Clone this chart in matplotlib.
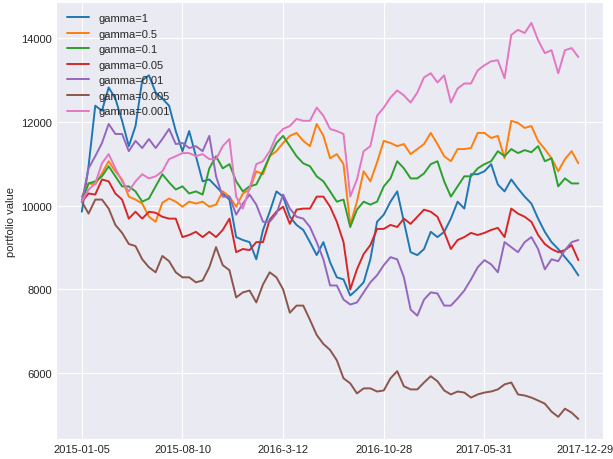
import numpy as np
import matplotlib
matplotlib.use("Agg")
import matplotlib.pyplot as plt

# valores, un punto cada 10 dias de trading
gamma_1 = [9855, 10940, 12385, 12265, 12820, 12555, 12025, 11420, 11900, 12990,
           13110, 12700, 12555, 12385, 11780, 11300, 11780, 11180, 10580, 10625,
           10460, 10290, 10145, 9250, 9180, 9130, 8720, 9420, 9855, 10340,
           10215, 9735, 9540, 9420, 9130, 8820, 9130, 8650, 8290, 8240,
           7855, 8000, 8170, 8720, 9615, 9785, 10095, 10340, 9615, 8890,
           8820, 8965, 9375, 9250, 9375, 9690, 10095, 9930, 10750, 10750,
           10820, 10990, 10505, 10340, 10625, 10410, 10215, 10050, 9690, 9375,
           9130, 8965, 8770, 8580, 8335]
gamma_05 = [10215, 10530, 10505, 10770, 11060, 10820, 10625, 10215, 10145, 10050,
            9735, 9615, 10070, 10170, 10095, 9975, 10095, 10050, 10095, 9975,
            10025, 10340, 10215, 9975, 10290, 10385, 10820, 10750, 11180, 11300,
            11495, 11665, 11735, 11545, 11420, 11950, 11665, 11130, 11230, 10990,
            9540, 10095, 10820, 10580, 11035, 11545, 11495, 11420, 11470, 11230,
            11350, 11470, 11735, 11470, 11180, 11060, 11350, 11350, 11375, 11735,
            11735, 11615, 11665, 11130, 12025, 11975, 11855, 11900, 11545, 11350,
            11130, 10820, 11110, 11300, 11010]
gamma_01 = [10095, 10530, 10580, 10700, 10940, 10700, 10460, 10460, 10340, 10095,
            10170, 10460, 10750, 10555, 10385, 10460, 10290, 10340, 10265, 10890,
            11180, 10890, 10990, 10580, 10340, 10460, 10505, 10820, 11180, 11495,
            11665, 11420, 11180, 11010, 10940, 10700, 10580, 10340, 10095, 10145,
            9490, 9905, 10095, 10025, 10095, 10460, 10650, 11060, 10890, 10650,
            10650, 10770, 10990, 11060, 10580, 10215, 10460, 10700, 10700, 10890,
            10990, 11060, 11300, 11180, 11350, 11255, 11325, 11275, 11420, 11060,
            11130, 10460, 10650, 10530, 10530]
gamma_005 = [10095, 10290, 10265, 10625, 10580, 10290, 10145, 9690, 9855, 9690,
             9855, 9830, 9735, 9690, 9690, 9250, 9300, 9375, 9250, 9375,
             9250, 9420, 9690, 8890, 8965, 8940, 9130, 9130, 9665, 9855,
             9975, 9565, 9905, 9930, 9930, 10215, 10215, 9975, 9615, 9130,
             8000, 8480, 8845, 9060, 9445, 9445, 9540, 9490, 9690, 9565,
             9735, 9905, 9855, 9735, 9375, 8965, 9180, 9250, 9350, 9300,
             9350, 9420, 9470, 9250, 9930, 9810, 9735, 9615, 9300, 9085,
             8965, 8890, 8940, 9060, 8700]
gamma_001 = [10095, 10890, 11180, 11495, 11950, 11710, 11710, 11300, 11545, 11375,
             11590, 11375, 11590, 11830, 11470, 11495, 11375, 11420, 11300, 11665,
             10700, 10215, 10215, 9785, 10050, 10265, 10025, 9615, 9615, 9810,
             10265, 9930, 9735, 9690, 9490, 9130, 8720, 8095, 8095, 7760,
             7640, 7690, 7930, 8170, 8340, 8580, 8770, 8720, 8290, 7520,
             7375, 7760, 7930, 7905, 7615, 7615, 7785, 7975, 8240, 8530,
             8700, 8600, 8410, 9130, 9010, 8890, 9130, 9250, 8965, 8480,
             8720, 8675, 8940, 9130, 9180]
gamma_0005 = [10100, 9810, 10145, 10145, 9930, 9540, 9350, 9085, 9035, 8720,
              8530, 8410, 8800, 8675, 8410, 8290, 8290, 8170, 8215, 8530,
              9010, 8580, 8460, 7810, 7930, 7975, 7690, 8120, 8410, 8290,
              8000, 7445, 7615, 7615, 7275, 6915, 6700, 6555, 6310, 5880,
              5760, 5520, 5640, 5640, 5565, 5590, 5880, 6050, 5690, 5615,
              5615, 5780, 5930, 5810, 5590, 5495, 5565, 5540, 5420, 5495,
              5540, 5565, 5615, 5735, 5780, 5495, 5470, 5420, 5350, 5275,
              5085, 4960, 5155, 5060, 4910]
gamma_0001 = [10095, 10385, 10530, 11010, 11230, 10890, 10580, 10340, 10580, 10750,
              10650, 10700, 10820, 11110, 11180, 11255, 11255, 11180, 11230, 11110,
              11110, 11420, 11590, 10215, 9930, 10410, 10990, 11060, 11300, 11665,
              11830, 11900, 12070, 12025, 12025, 12340, 12145, 11830, 11780, 11710,
              10215, 10625, 11300, 11420, 12145, 12340, 12580, 12750, 12630, 12460,
              12700, 13060, 13160, 12940, 13110, 12460, 12795, 12915, 12915, 13230,
              13350, 13445, 13470, 13040, 14075, 14195, 14120, 14360, 13950, 13640,
              13710, 13160, 13710, 13760, 13545]

series = [gamma_1, gamma_05, gamma_01, gamma_005, gamma_001, gamma_0005, gamma_0001]
labels = ["gamma=1", "gamma=0.5", "gamma=0.1", "gamma=0.05",
          "gamma=0.01", "gamma=0.005", "gamma=0.001"]

tick_pos = [0, 150, 300, 450, 600, 750]
tick_labels = ["2015-01-05", "2015-08-10", "2016-3-12",
               "2016-10-28", "2017-05-31", "2017-12-29"]

plt.style.use("seaborn-v0_8-darkgrid")
plt.rcParams["font.family"] = ["Liberation Sans", "DejaVu Sans"]
plt.rcParams["font.size"] = 8

fig = plt.figure(figsize=(6.13, 4.6), dpi=100)
ax = fig.add_subplot(111)
fig.subplots_adjust(left=0.093, right=0.984, bottom=0.044, top=0.991)

for vals, lab in zip(series, labels):
    days = np.arange(len(vals)) * 10
    ax.plot(days, vals, label=lab, linewidth=1.4)

ax.set_xticks(tick_pos)
ax.set_xticklabels(tick_labels)
ax.set_yticks([6000, 8000, 10000, 12000, 14000])
ax.set_ylabel("portfolio value", fontsize=8)
ax.tick_params(labelsize=8, colors="0.15")
ax.legend(loc="upper left", frameon=False, fontsize=8)

fig.savefig("out.png", dpi=100)
